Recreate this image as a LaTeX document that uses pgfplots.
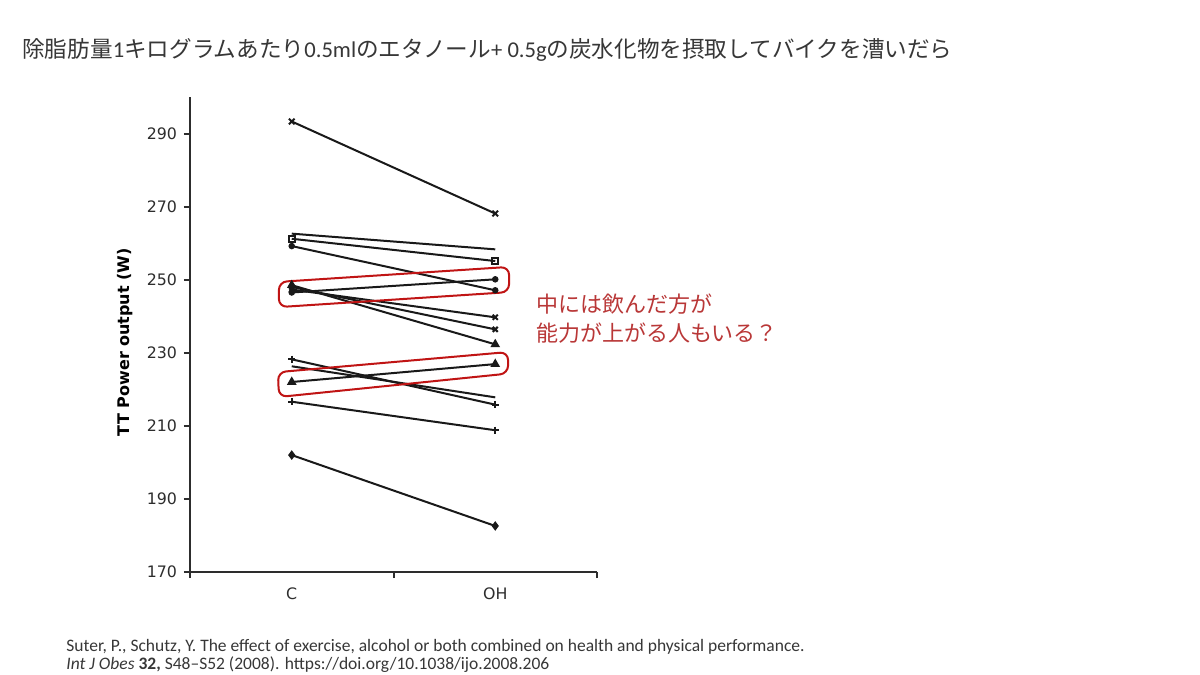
\documentclass[border=0pt]{standalone}
\usepackage{fontspec}
\usepackage{pgfplots}
\pgfplotsset{compat=1.18}
\setmainfont{Carlito}
\newfontfamily\cjk{Noto Sans CJK JP}
\newfontfamily\axisfont{DejaVu Sans}
\definecolor{boxred}{RGB}{192,20,20}
\definecolor{txtred}{RGB}{185,55,55}
\definecolor{titlegray}{RGB}{55,55,55}
\definecolor{linec}{RGB}{25,25,25}
\definecolor{axc}{RGB}{45,45,45}
\begin{document}
\begin{tikzpicture}
\path[use as bounding box, fill=white] (0,0) rectangle (600pt,337.5pt);
\node[anchor=base west, inner sep=0pt, text=titlegray, font=\fontsize{11.3}{13}\selectfont] at (11pt,308.5pt)
{{\cjk 除脂肪量}1{\cjk キログラムあたり}0.5ml{\cjk のエタノール}+ 0.5g{\cjk の炭水化物を摂取してバイクを漕いだら}};
\node[anchor=base west, inner sep=0pt, text=txtred, font=\cjk\fontsize{11}{13}\selectfont] at (268pt,181pt) {中には飲んだ方が};
\node[anchor=base west, inner sep=0pt, text=txtred, font=\cjk\fontsize{11}{13}\selectfont] at (268pt,166.5pt) {能力が上がる人もいる？};
\node[anchor=base west, inner sep=0pt, text=titlegray, font=\fontsize{8.75}{10}\selectfont] at (33pt,11.8pt)
{Suter, P., Schutz, Y. The effect of exercise, alcohol or both combined on health and physical performance.};
\node[anchor=base west, inner sep=0pt, text=titlegray, font=\fontsize{8.75}{10}\selectfont] at (33pt,2.6pt)
{\textit{Int J Obes} \textbf{32,} S48--S52 (2008). https://doi.org/10.1038/ijo.2008.206};
\begin{axis}[
  at={(95pt,51.5pt)}, anchor=south west,
  scale only axis, width=203.5pt, height=237.5pt,
  xmin=0, xmax=2, ymin=170, ymax=300,
  axis lines=left, axis line style={-, axc, line width=1pt},
  xtick={0,1,2}, xticklabels={},
  extra x ticks={0.5,1.5}, extra x tick labels={C,OH},
  extra x tick style={major tick length=0pt, tick label style={yshift=-4.5pt}},
  ytick={170,190,210,230,250,270,290},
  tick style={axc, line width=1pt}, tick align=outside, major tick length=3pt,
  tick label style={font=\axisfont\fontsize{7.9}{9}\selectfont, text=axc},
  /pgf/number format/assume math mode=true,
  ylabel={TT Power output (W)},
  ylabel style={font=\axisfont\bfseries\fontsize{8}{9}\selectfont, text=black, at={(axis description cs:-0.16,0.484)}, anchor=center},
  clip=false,
]
\pgfplotsset{every axis plot/.append style={linec, line width=1pt, mark options={solid, fill=linec}}}
\addplot[mark=x, mark size=2pt] coordinates {(0.5,293.3) (1.5,268.1)};
\addplot[mark=none] coordinates {(0.5,262.6) (1.5,258.3)};
\addplot[mark=square, mark size=1.4pt, mark options={fill=white}] coordinates {(0.5,261.2) (1.5,255.1)};
\addplot[mark=*, mark size=1.1pt] coordinates {(0.5,259.2) (1.5,247.1)};
\addplot[mark=triangle*, mark size=1.8pt] coordinates {(0.5,248.5) (1.5,232.3)};
\addplot[mark=x, mark size=1.8pt] coordinates {(0.5,248.0) (1.5,236.4)};
\addplot[mark=x, mark size=1.8pt] coordinates {(0.5,247.3) (1.5,239.7)};
\addplot[mark=*, mark size=1.1pt] coordinates {(0.5,246.5) (1.5,250.1)};
\addplot[mark=+, mark size=1.8pt] coordinates {(0.5,228.2) (1.5,215.8)};
\addplot[mark=none] coordinates {(0.5,226.3) (1.5,217.8)};
\addplot[mark=triangle*, mark size=1.8pt] coordinates {(0.5,222.0) (1.5,226.9)};
\addplot[mark=+, mark size=1.8pt] coordinates {(0.5,216.6) (1.5,208.8)};
\addplot[mark=diamond*, mark size=1.6pt] coordinates {(0.5,202.0) (1.5,182.6)};
\draw[boxred, line width=1pt, rounded corners=4pt]
  (axis cs:0.437,249.4) -- (axis cs:1.568,253.5) -- (axis cs:1.568,246.6) -- (axis cs:0.437,242.5) -- cycle;
\draw[boxred, line width=1pt, rounded corners=4pt]
  (axis cs:0.432,224.7) -- (axis cs:1.563,230.2) -- (axis cs:1.563,224.3) -- (axis cs:0.437,217.9) -- cycle;
\end{axis}
\end{tikzpicture}
\end{document}
